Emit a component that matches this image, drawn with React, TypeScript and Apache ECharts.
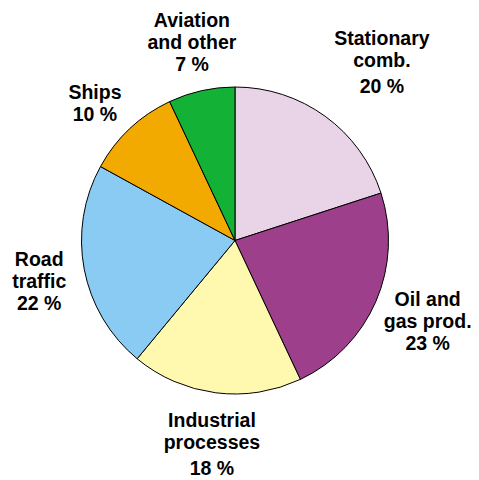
import React, { useEffect, useRef } from "react";
import * as echarts from "echarts";

const categories = [
  "Stationary\ncomb.",
  "Oil and\ngas prod.",
  "Industrial\nprocesses",
  "Road\ntraffic",
  "Ships",
  "Aviation\nand other",
];
const values = [20, 23, 18, 22, 10, 7];
const colors = ["#E8D4E6", "#9E3F8B", "#FFF9B0", "#89CBF2", "#F2A900", "#14B137"];
// label styling: radial distance (px), angle tweak (deg), extra gap before percent
const labelDist = [230, 209, 207, 200, 196, 203];
const labelAngleTweak = [3.7, -0.6, -0.8, -1, -2.4, 0.35];
const pctGap = [true, false, true, false, false, false];

const CX = 235;
const CY = 240.5;
const R = 153.5;

export default function App() {
  const ref = useRef<HTMLDivElement>(null);
  useEffect(() => {
    if (!ref.current) return;
    const chart = echarts.init(ref.current, undefined, { renderer: "svg" });
    const total = values.reduce((a, b) => a + b, 0);
    const mids: number[] = [];
    let acc = 0;
    values.forEach((v) => {
      mids.push(((acc + v / 2) / total) * 360);
      acc += v;
    });
    chart.setOption({
      animation: false,
      backgroundColor: "#ffffff",
      series: [
        {
          type: "pie",
          center: [CX, CY],
          radius: R,
          startAngle: 90,
          clockwise: true,
          avoidLabelOverlap: false,
          itemStyle: { borderColor: "#000000", borderWidth: 1 },
          emphasis: { disabled: true },
          labelLine: { show: false },
          label: {
            show: true,
            position: "outside",
            color: "#000000",
            fontFamily: "Liberation Sans, Arial, sans-serif",
            fontWeight: "bold",
            fontSize: 19.5,
            lineHeight: 22,
            align: "center",
            formatter: (p: any) =>
              `${p.name}\n{${pctGap[p.dataIndex] ? "pg" : "p"}|${p.value} %}`,
            rich: {
              p: {
                fontFamily: "Liberation Sans, Arial, sans-serif",
                fontWeight: "bold",
                fontSize: 19.5,
                lineHeight: 22,
                color: "#000000",
              },
              pg: {
                fontFamily: "Liberation Sans, Arial, sans-serif",
                fontWeight: "bold",
                fontSize: 19.5,
                lineHeight: 30,
                color: "#000000",
              },
            },
          },
          labelLayout: (params: any) => {
            const i = params.dataIndex;
            const th = ((mids[i] + labelAngleTweak[i]) * Math.PI) / 180;
            return {
              x: CX + labelDist[i] * Math.sin(th),
              y: CY - labelDist[i] * Math.cos(th),
              align: "center",
              verticalAlign: "middle",
            };
          },
          data: categories.map((name, i) => ({
            name,
            value: values[i],
            itemStyle: { color: colors[i] },
          })),
        },
      ],
    });
    return () => chart.dispose();
  }, []);
  return (
    <div
      ref={ref}
      style={{ position: "absolute", left: 0, top: 0, width: 479, height: 480 }}
    />
  );
}
